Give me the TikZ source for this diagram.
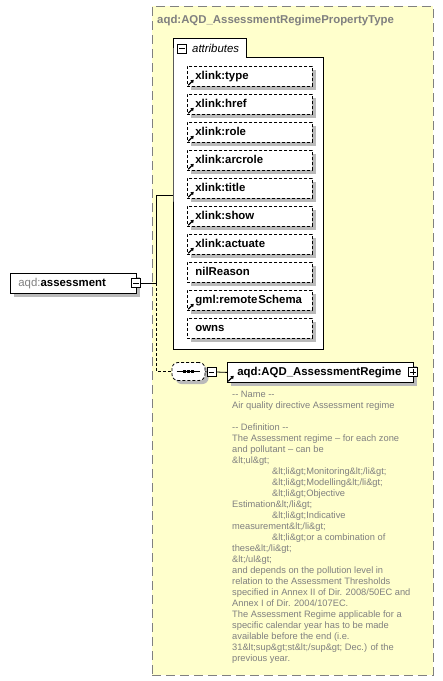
\documentclass[tikz,border=0pt]{standalone}
\usepackage{fontspec}
\setmainfont{Liberation Sans}
\usetikzlibrary{arrows.meta}
\definecolor{bgyellow}{HTML}{FFFFCC}
\definecolor{shadowgray}{RGB}{186,186,186}
\definecolor{txtgray}{HTML}{808080}
\begin{document}
\begin{tikzpicture}[x=1pt,y=-1pt,
  outerbox/.style={draw=txtgray, line width=1pt, dash pattern=on 9pt off 5pt, fill=bgyellow, inner sep=0pt},
  boldlbl/.style={font=\fontsize{11.4}{13.7}\selectfont\bfseries},
  shadowfill/.style={fill=shadowgray},
  attr/.style={boldlbl, draw=black, line width=0.8pt, dash pattern=on 3pt off 2pt, fill=white,
    minimum width=125pt, minimum height=20pt, inner xsep=8pt, inner ysep=0pt,
    text width=109pt, align=left, text height=8pt, text depth=2.5pt},
  elbox/.style={boldlbl, draw=black, line width=0.8pt, fill=white, minimum height=20pt,
    inner ysep=0pt, align=left, text height=8pt, text depth=2.5pt},
  pmbox/.style={draw=black, line width=0.8pt, fill=white, minimum size=9pt, inner sep=0pt},
  minusbox/.style={pmbox, path picture={\draw[line width=0.8pt] ([xshift=1.8pt]path picture bounding box.west) -- ([xshift=-1.8pt]path picture bounding box.east);}},
  plusbox/.style={pmbox, path picture={\draw[line width=0.8pt] ([xshift=1.8pt]path picture bounding box.west) -- ([xshift=-1.8pt]path picture bounding box.east);
     \draw[line width=0.8pt] ([yshift=-1.8pt]path picture bounding box.north) -- ([yshift=1.8pt]path picture bounding box.south);}},
  linkarrow/.style={line width=1.1pt, -{Triangle[length=2.8pt,width=3.8pt]}},
  conn/.style={draw=black, line width=0.8pt},
  seqbox/.style={rectangle, rounded corners=6pt, minimum width=33pt, minimum height=18pt, inner sep=0pt,
    draw=black, line width=0.8pt, dash pattern=on 3pt off 2pt, fill=white},
  doctext/.style={text=txtgray, font=\fontsize{9.3}{11}\selectfont, align=left, inner sep=0pt}
]
\useasboundingbox (0,0) rectangle (443,681);
\fill[white] (0,0) rectangle (443,681);
% outer complex type box
\node[outerbox, anchor=north west, minimum width=281pt, minimum height=669pt] (outer) at (151.5,5.5) {};
\node[boldlbl, text=txtgray, anchor=west, inner sep=0pt, text height=8pt, text depth=2.5pt] (title) at (157,20.3) {aqd:AQD\_AssessmentRegimePropertyType};

% attributes container
\node[anchor=north west, minimum width=150pt, minimum height=292pt, inner sep=0pt] (attrs) at (173,57) {};
\node[anchor=south west, minimum width=73pt, minimum height=18pt, inner sep=0pt] (tab) at (173,57) {};
\draw[line width=0.8pt, fill=white] (attrs.north west) -- (tab.north west) -- (tab.north east) -- (tab.south east)
  -- (attrs.north east) -- (attrs.south east) -- (attrs.south west) -- cycle;
\node[minusbox] (tabmin) at (182,48.5) {};
\node[font=\fontsize{11.4}{13.7}\selectfont\itshape, anchor=west, inner sep=0pt] (tablbl) at (192,48.5) {attributes};

% attributes
\foreach \k/\attname/\lnk in {0/xlink:type/1, 1/xlink:href/1, 2/xlink:role/1, 3/xlink:arcrole/1,
   4/xlink:title/1, 5/xlink:show/1, 6/xlink:actuate/1, 7/nilReason/0, 8/gml:remote\kern0.8pt Schema/1, 9/owns/0}{
  \fill[shadowfill] (190.5,{69.5+28*\k}) rectangle (316,{90+28*\k});
  \node[attr, anchor=north west] (att\k) at (187,{66+28*\k}) {\attname};
  \ifnum\lnk=1
    \draw[linkarrow] ([xshift=1.2pt,yshift=1.5pt]att\k.south west) -- ++(5.5pt,5.5pt);
  \fi
}

% assessment element
\fill[shadowfill] (13.5,276.5) rectangle (140,297);
\node[elbox, anchor=north west, minimum width=126pt, inner xsep=8pt, text width=110pt] (assess) at (10,273)
  {\textcolor{txtgray}{\mdseries aqd:}assessment};
\node[minusbox] (amin) at (136,283) {};

% connectors
\coordinate (j) at (156.5,283);
\coordinate (jt) at (156.5,195);
\draw[conn] (amin.east) -- (j) -- (jt) -- (jt -| attrs.west);

% sequence compositor
\fill[shadowfill, rounded corners=6pt] (175.5,366) rectangle (208.5,384);
\node[seqbox] (seq) at (188.5,371.5) {};
\draw[conn, dash pattern=on 3pt off 2pt] (j) |- (seq.west);
\draw[line width=1pt] ([xshift=5pt]seq.west) -- ([xshift=-5pt]seq.east);
\foreach \dx in {-4,0,4}{
  \fill ([xshift=\dx pt]seq.center) +(-1.6pt,-1.6pt) rectangle +(1.6pt,1.6pt);
}
\node[minusbox] (smin) at (211.5,372) {};
\draw[conn] (seq.east) -- (smin.west);

% AQD_AssessmentRegime element
\fill[shadowfill] (230.5,365.5) rectangle (417,386);
\node[elbox, anchor=north west, minimum width=186pt, inner xsep=10pt, text width=166pt] (reg) at (227,362)
  {aqd:AQD\_AssessmentRegime};
\draw[linkarrow] ([xshift=1.2pt,yshift=1.5pt]reg.south west) -- ++(5.5pt,5.5pt);
\node[plusbox] (rplus) at (413,372) {};
\draw[conn] (smin.east) -- (reg.west);

% documentation
\node[doctext, anchor=north west] (doc) at (232,390) {\strut -{}- Name -{}-\\
Air quality directive Assessment regime\\
\strut\\
-{}- Definition -{}-\\
The Assessment regime – for each zone\\
and pollutant – can be\\
\&lt;ul\&gt;\\
\hspace*{40pt}\&lt;li\&gt;Monitoring\&lt;/li\&gt;\\
\hspace*{40pt}\&lt;li\&gt;Modelling\&lt;/li\&gt;\\
\hspace*{40pt}\&lt;li\&gt;Objective\\
Estimation\&lt;/li\&gt;\\
\hspace*{40pt}\&lt;li\&gt;Indicative\\
measurement\&lt;/li\&gt;\\
\hspace*{40pt}\&lt;li\&gt;or a combination of\\
these\&lt;/li\&gt;\\
\&lt;/ul\&gt;\\
and depends on the pollution level in\\
relation to the Assessment Thresholds\\
specified in Annex II of Dir. 2008/50EC and\\
Annex I of Dir. 2004/107EC.\\
The Assessment Regime applicable for a\\
specific calendar year has to be made\\
available before the end (i.e.\\
31\&lt;sup\&gt;st\&lt;/sup\&gt; Dec.) of the\\
previous year.};
\end{tikzpicture}
\end{document}
